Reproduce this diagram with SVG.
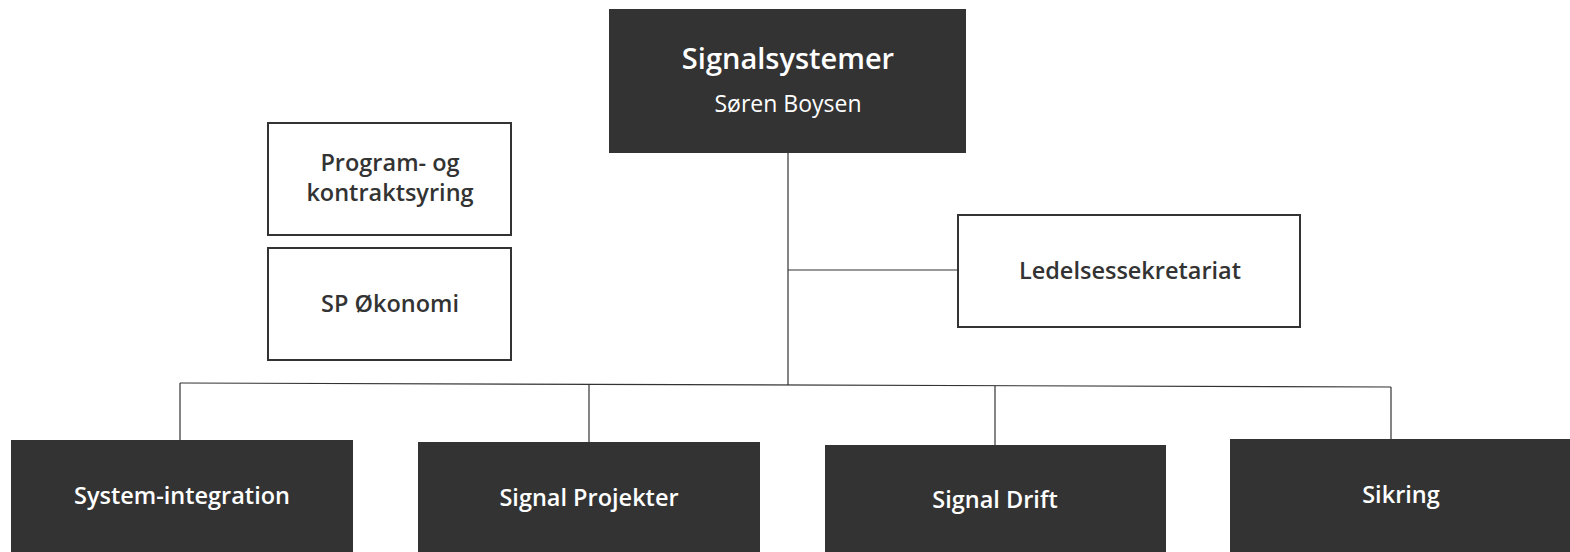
<svg xmlns="http://www.w3.org/2000/svg" width="1570" height="552" viewBox="0 0 1570 552">
<style>
.dark{fill:#333333;}
.light{fill:#ffffff;stroke:#333333;stroke-width:2;}
.t{font-family:"Open Sans",Lato,sans-serif;text-anchor:middle;}
.tw{fill:#ffffff;font-weight:600;font-size:23.5px;}
.tb{fill:#333333;font-weight:600;font-size:23.5px;}
.ln{stroke:#333333;stroke-width:1.2;fill:none;}
</style>
<rect width="1570" height="552" fill="#ffffff"/>
<g id="connectors">
<line class="ln" x1="788" y1="153" x2="788" y2="385"/>
<line class="ln" x1="788" y1="270" x2="958" y2="270"/>
<line class="ln" x1="180" y1="383" x2="1391" y2="387"/>
<line class="ln" x1="180" y1="383" x2="180" y2="440"/>
<line class="ln" x1="589" y1="384.5" x2="589" y2="442"/>
<line class="ln" x1="995" y1="386" x2="995" y2="445"/>
<line class="ln" x1="1391" y1="387" x2="1391" y2="439"/>
</g>
<g id="signalsystemer">
<rect class="dark" x="609" y="9" width="357" height="144"/>
<text class="t" x="788" y="69" fill="#ffffff" font-weight="600" font-size="29">Signalsystemer</text>
<text class="t" x="788" y="112" fill="#ffffff" font-size="23">Søren Boysen</text>
</g>
<g id="program">
<rect class="light" x="268" y="123" width="243" height="112"/>
<text class="t tb" x="390" y="171">Program- og</text>
<text class="t tb" x="390" y="201">kontraktsyring</text>
</g>
<g id="okonomi">
<rect class="light" x="268" y="248" width="243" height="112"/>
<text class="t tb" x="390" y="312">SP Økonomi</text>
</g>
<g id="ledelse">
<rect class="light" x="958" y="215" width="342" height="112"/>
<text class="t tb" x="1130" y="279">Ledelsessekretariat</text>
</g>
<g id="sysint">
<rect class="dark" x="11" y="440" width="342" height="120"/>
<text class="t tw" x="182" y="504">System-integration</text>
</g>
<g id="projekter">
<rect class="dark" x="418" y="442" width="342" height="120"/>
<text class="t tw" x="589" y="506">Signal Projekter</text>
</g>
<g id="drift">
<rect class="dark" x="825" y="445" width="341" height="120"/>
<text class="t tw" x="995" y="508">Signal Drift</text>
</g>
<g id="sikring">
<rect class="dark" x="1230" y="439" width="345" height="120"/>
<text class="t tw" x="1401" y="503">Sikring</text>
</g>
</svg>
